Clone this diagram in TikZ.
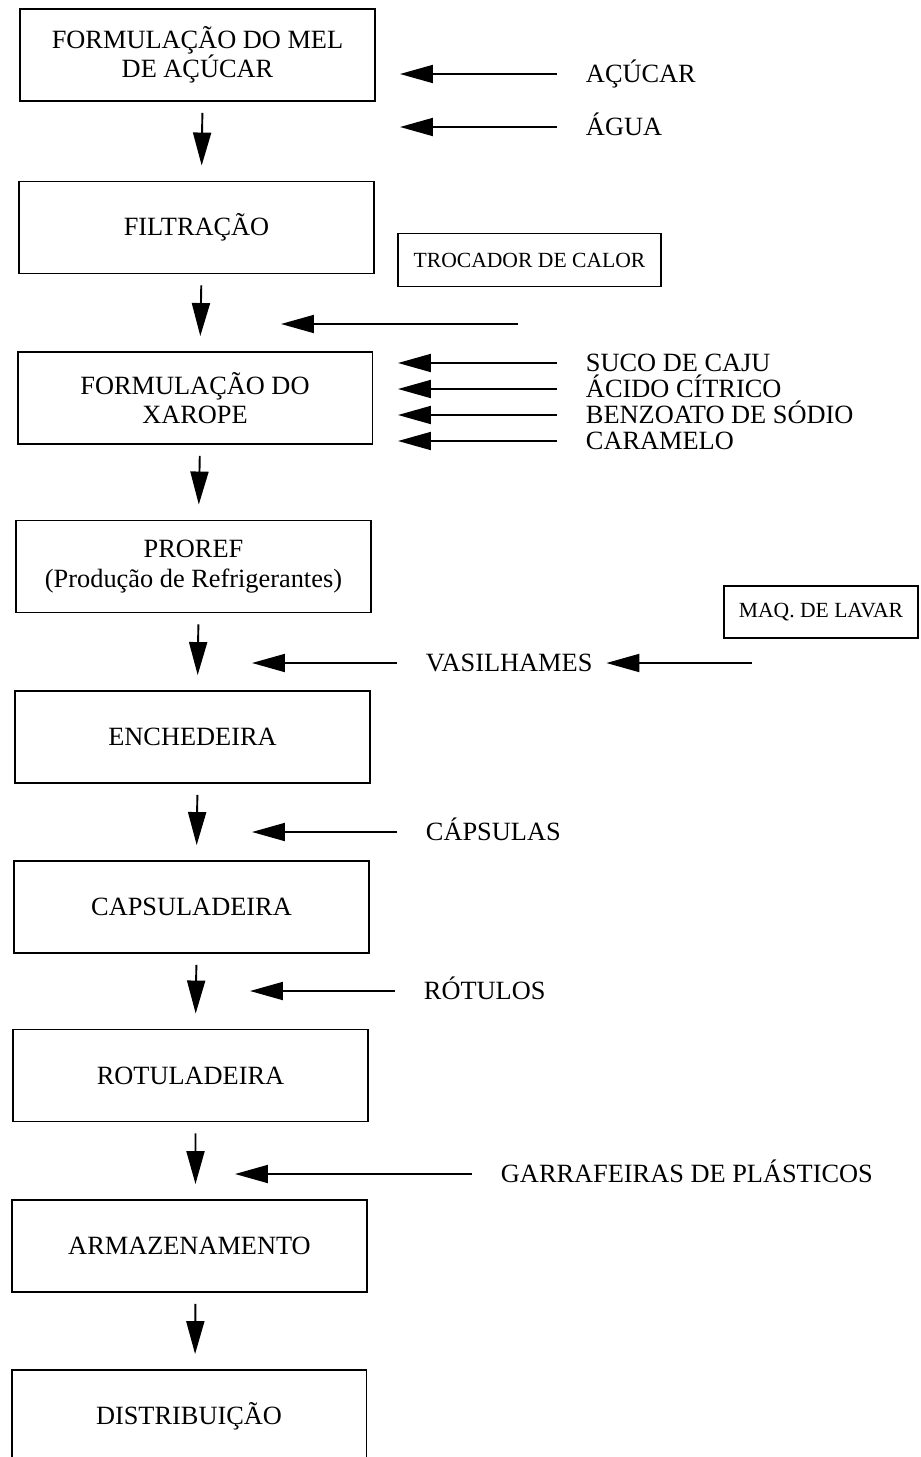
\documentclass[tikz,border=0pt]{standalone}
\usepackage{fontspec}
\setmainfont{Liberation Serif}
\usetikzlibrary{arrows.meta}

\begin{document}
\begin{tikzpicture}[x=0.02cm,y=-0.02cm,line width=1.1pt,>={Triangle[length=0.66cm,width=0.36cm]}]
    \tikzstyle{etapa}=[draw, rectangle, minimum width=7.1cm, minimum height=1.84cm, align=center, inner sep=0pt, font=\fontsize{15}{16.8}\selectfont]
    \tikzstyle{equip}=[draw, rectangle, minimum height=1.06cm, inner sep=0pt, font=\fontsize{12.3}{14}\selectfont]
    \tikzstyle{insumo}=[anchor=west, inner sep=0pt, text height=9.9pt, text depth=0pt, font=\fontsize{15}{17}\selectfont]
    \tikzstyle{desce}=[->, shorten <=0.22cm, shorten >=0.3cm]
    \tikzstyle{entra}=[->, shorten <=0.56cm]

    \useasboundingbox (0,0) rectangle (920,1457);

    % etapas do processo
    \node[etapa] (mel)           at (197.5,55)   {FORMULAÇÃO DO MEL\\DE AÇÚCAR};
    \node[etapa] (filtracao)     at (196.5,227.5) {FILTRAÇÃO};
    \node[etapa] (xarope)        at (195,398)    {FORMULAÇÃO DO\\XAROPE};
    \node[etapa] (proref)        at (193.5,566.5) {PROREF\\(Produção de Refrigerantes)};
    \node[etapa] (enchedeira)    at (192.5,737)  {ENCHEDEIRA};
    \node[etapa] (capsuladeira)  at (191.5,907)  {CAPSULADEIRA};
    \node[etapa] (rotuladeira)   at (190.5,1075.5) {ROTULADEIRA};
    \node[etapa] (armazenamento) at (189.5,1246) {ARMAZENAMENTO};
    \node[etapa] (distribuicao)  at (189,1416)   {DISTRIBUIÇÃO};

    % equipamentos
    \node[equip, minimum width=5.26cm] (trocador) at (529.5,260) {TROCADOR DE CALOR};
    \node[equip, minimum width=3.88cm, minimum height=1.04cm] (maq) at (821,612) {MAQ. DE LAVAR};

    % insumos
    \node[insumo] (acucar)      at (585,74)   {AÇÚCAR};
    \node[insumo] (agua)        at (585,127)  {ÁGUA};
    \node[insumo] (suco)        at (585,363)  {SUCO DE CAJU};
    \node[insumo] (acido)       at (585,389)  {ÁCIDO CÍTRICO};
    \node[insumo] (benzoato)    at (585,415)  {BENZOATO DE SÓDIO};
    \node[insumo] (caramelo)    at (585,441)  {CARAMELO};
    \node[insumo] (vasilhames)  at (425,663)  {VASILHAMES};
    \node[insumo] (capsulas)    at (425,832)  {CÁPSULAS};
    \node[insumo] (rotulos)     at (423,991)  {RÓTULOS};
    \node[insumo] (garrafeiras) at (500,1174) {GARRAFEIRAS DE PLÁSTICOS};

    % pontas das setas de entrada
    \coordinate (pacucar)   at (400,74);
    \coordinate (pagua)     at (400,127);
    \coordinate (quente)    at (518,324);
    \coordinate (pcalor)    at (281,324);
    \coordinate (psuco)     at (398,363);
    \coordinate (pacido)    at (398,389);
    \coordinate (pbenzoato) at (398,415);
    \coordinate (pcaramelo) at (398,441);
    \coordinate (lavada)    at (752,663);
    \coordinate (pvasilhames) at (252,663);
    \coordinate (pcapsulas) at (252,832);
    \coordinate (protulos)  at (250,991);
    \coordinate (pgarrafeiras) at (235,1174);

    \path
     ([xshift=0.1cm]mel.south)           edge[desce] ([xshift=0.1cm]filtracao.north)
     ([xshift=0.1cm]filtracao.south)     edge[desce] ([xshift=0.1cm]xarope.north)
     ([xshift=0.1cm]xarope.south)        edge[desce] ([xshift=0.1cm]proref.north)
     ([xshift=0.1cm]proref.south)        edge[desce] ([xshift=0.1cm]enchedeira.north)
     ([xshift=0.1cm]enchedeira.south)    edge[desce] ([xshift=0.1cm]capsuladeira.north)
     ([xshift=0.1cm]capsuladeira.south)  edge[desce] ([xshift=0.1cm]rotuladeira.north)
     ([xshift=0.1cm]rotuladeira.south)   edge[desce] ([xshift=0.12cm]armazenamento.north)
     ([xshift=0.12cm]armazenamento.south) edge[desce] ([xshift=0.12cm]distribuicao.north)
     (acucar.west)      edge[entra] (pacucar)
     (agua.west)        edge[entra] (pagua)
     (quente)           edge[->]    (pcalor)
     (suco.west)        edge[entra] (psuco)
     (acido.west)       edge[entra] (pacido)
     (benzoato.west)    edge[entra] (pbenzoato)
     (caramelo.west)    edge[entra] (pcaramelo)
     (lavada)           edge[->, shorten >=0.26cm] (vasilhames.east)
     (vasilhames.west)  edge[entra] (pvasilhames)
     (capsulas.west)    edge[entra] (pcapsulas)
     (rotulos.west)     edge[entra] (protulos)
     (garrafeiras.west) edge[entra] (pgarrafeiras)
     ;
\end{tikzpicture}
\end{document}
